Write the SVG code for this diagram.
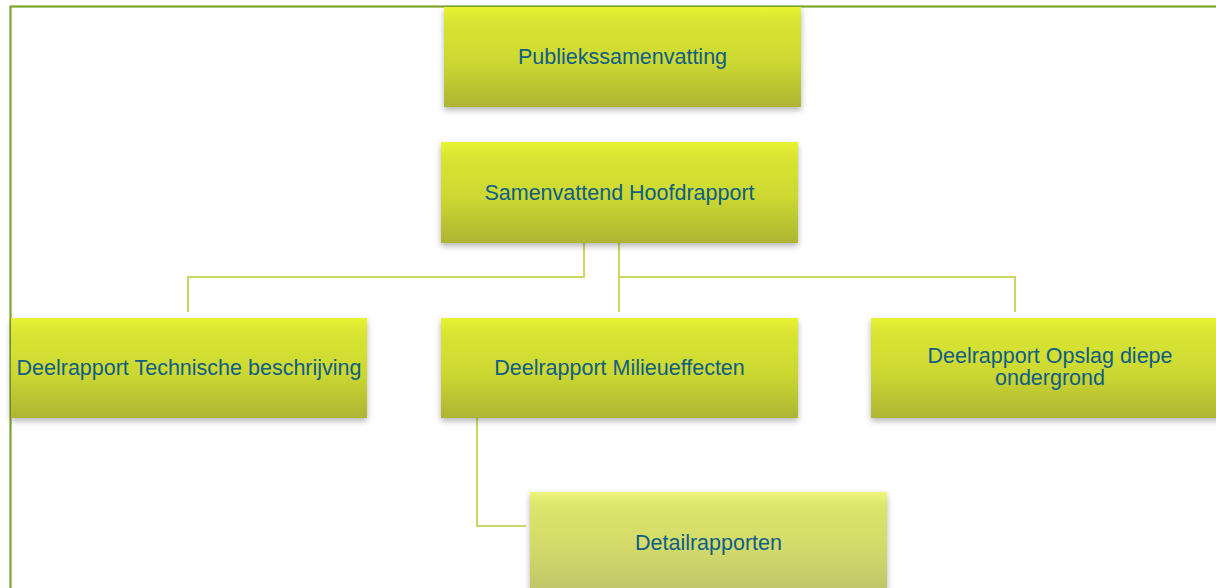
<svg xmlns="http://www.w3.org/2000/svg" width="1216" height="588" viewBox="0 0 1216 588">
  <style>
    .box { fill: url(#g1); filter: url(#sh); }
    .box2 { fill: url(#g2); filter: url(#sh); }
    .lbl { font-family: "Liberation Sans", Arial, sans-serif; font-size: 21.5px; fill: #0f5e84; text-anchor: middle; }
    .conn { fill: none; stroke: #cdd662; stroke-width: 2; }
  </style>
  <defs>
    <linearGradient id="g1" x1="0" y1="0" x2="0" y2="1">
      <stop offset="0" stop-color="#e8f534"/>
      <stop offset="0.12" stop-color="#dae631"/>
      <stop offset="0.55" stop-color="#ccd830"/>
      <stop offset="1" stop-color="#adb530"/>
    </linearGradient>
    <linearGradient id="g2" x1="0" y1="0" x2="0" y2="1">
      <stop offset="0" stop-color="#f0f67c"/>
      <stop offset="0.12" stop-color="#dde56c"/>
      <stop offset="0.55" stop-color="#d3da6a"/>
      <stop offset="1" stop-color="#bec468"/>
    </linearGradient>
    <filter id="sh" x="-10%" y="-10%" width="120%" height="130%">
      <feDropShadow dx="0" dy="3" stdDeviation="3" flood-color="#000" flood-opacity="0.3"/>
    </filter>
  </defs>
  <rect x="0" y="0" width="1216" height="588" fill="#ffffff"/>
  <rect x="10.5" y="6.5" width="1300" height="700" fill="none" stroke="#7da52a" stroke-width="2.2"/>
  <g id="connectors">
    <polyline class="conn" points="584,243 584,277 188,277 188,312"/>
    <polyline class="conn" points="619,243 619,312"/>
    <polyline class="conn" points="619,277 1015,277 1015,312"/>
    <polyline class="conn" points="477,418 477,526 526,526"/>
  </g>
  <g id="publiekssamenvatting">
    <rect class="box" x="444" y="7" width="357" height="100"/>
    <text class="lbl" x="622.5" y="64">Publiekssamenvatting</text>
  </g>
  <g id="hoofdrapport">
    <rect class="box" x="441" y="142" width="357" height="101"/>
    <text class="lbl" x="619.5" y="200">Samenvattend Hoofdrapport</text>
  </g>
  <g id="technische">
    <rect class="box" x="11" y="318" width="356" height="100"/>
    <text class="lbl" x="189" y="375">Deelrapport Technische beschrijving</text>
  </g>
  <g id="milieueffecten">
    <rect class="box" x="441" y="318" width="357" height="100"/>
    <text class="lbl" x="619.5" y="375">Deelrapport Milieueffecten</text>
  </g>
  <g id="opslag">
    <rect class="box" x="871" y="318" width="357" height="100"/>
    <text class="lbl" x="1050" y="363">Deelrapport Opslag diepe</text>
    <text class="lbl" x="1050" y="385">ondergrond</text>
  </g>
  <g id="detailrapporten">
    <rect class="box2" x="530" y="492" width="357" height="101"/>
    <text class="lbl" x="708.5" y="550">Detailrapporten</text>
  </g>
</svg>
